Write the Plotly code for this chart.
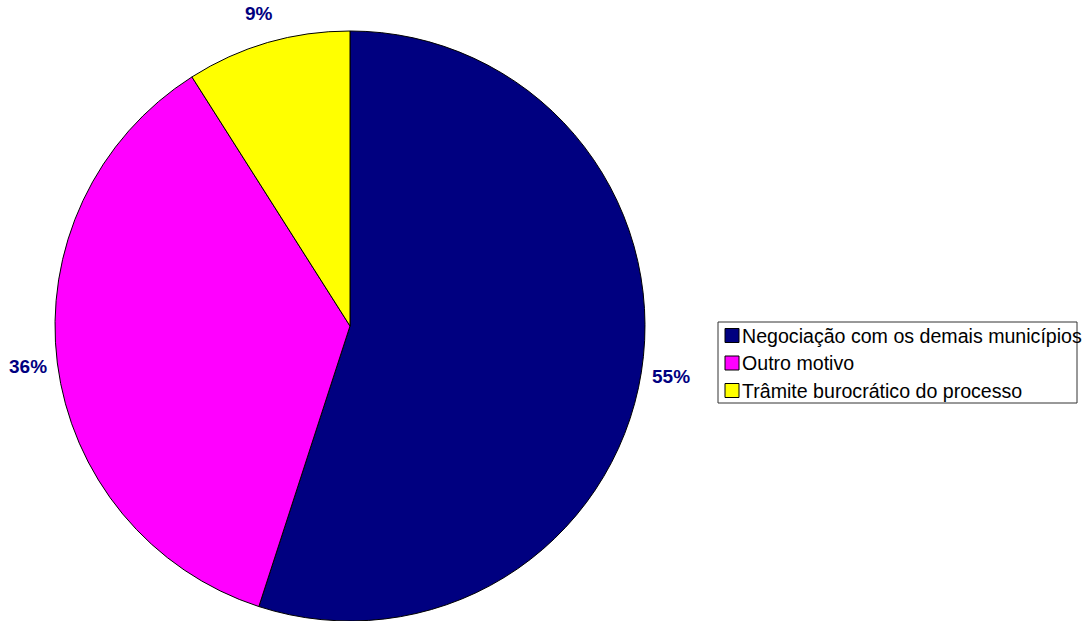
import math
import plotly.graph_objects as go

# Motivos e participação percentual
labels = ["Negociação com os demais municípios", "Outro motivo", "Trâmite burocrático do processo"]
values = [55, 36, 9]
colors = ["#000080", "#FF00FF", "#FFFF00"]

W, H = 1092, 621
FONT = "Liberation Sans, Arial, sans-serif"

# Pie box in pixels (left, right, top, bottom)
px_l, px_r, px_t, px_b = 55, 645, 31, 621
cx, cy = (px_l + px_r) / 2, (px_t + px_b) / 2
radius = min(px_r - px_l, px_b - px_t) / 2

fig = go.Figure(
    go.Pie(
        labels=labels,
        values=values,
        sort=False,
        direction="clockwise",
        rotation=0,
        marker=dict(colors=colors, line=dict(color="#000000", width=1)),
        textinfo="none",
        hoverinfo="label+percent",
        domain=dict(x=[px_l / W, px_r / W], y=[1 - px_b / H, 1 - px_t / H]),
        showlegend=False,
    )
)

# Percentage labels just outside each slice, at the slice's mid-angle
total = sum(values)
start = 0.0
annotations = []
for v in values:
    mid = start + v / total * 360 / 2
    start += v / total * 360
    d = radius + 30
    x = cx + d * math.sin(math.radians(mid))
    y = cy - d * math.cos(math.radians(mid))
    annotations.append(dict(
        x=x / W, y=1 - y / H, xref="paper", yref="paper",
        text=f"<b>{v / total * 100:.0f}%</b>", showarrow=False,
        xanchor="center", yanchor="middle",
        font=dict(family=FONT, size=19, color="#000080"),
    ))

# Legend: framed box with coloured squares and category names
box_l, box_r, box_t, box_b = 718, 1077, 322, 403
row_y = [335.5, 363, 390.5]
shapes = [dict(type="rect", xref="paper", yref="paper",
               x0=box_l / W, x1=box_r / W, y0=1 - box_b / H, y1=1 - box_t / H,
               line=dict(color="#333333", width=1), fillcolor="rgba(0,0,0,0)")]
for lab, col, ry in zip(labels, colors, row_y):
    shapes.append(dict(type="rect", xref="paper", yref="paper",
                       x0=725 / W, x1=739 / W, y0=1 - (ry + 7) / H, y1=1 - (ry - 7) / H,
                       line=dict(color="#000000", width=1), fillcolor=col))
    annotations.append(dict(
        x=740 / W, y=1 - ry / H, xref="paper", yref="paper",
        text=lab, showarrow=False, xanchor="left", yanchor="middle",
        font=dict(family=FONT, size=19.6, color="#000000"),
    ))

fig.update_layout(
    width=W,
    height=H,
    margin=dict(l=0, r=0, t=0, b=0),
    paper_bgcolor="#FFFFFF",
    plot_bgcolor="#FFFFFF",
    font=dict(family=FONT, size=19, color="#000000"),
    annotations=annotations,
    shapes=shapes,
)

fig.write_html("out.html")
